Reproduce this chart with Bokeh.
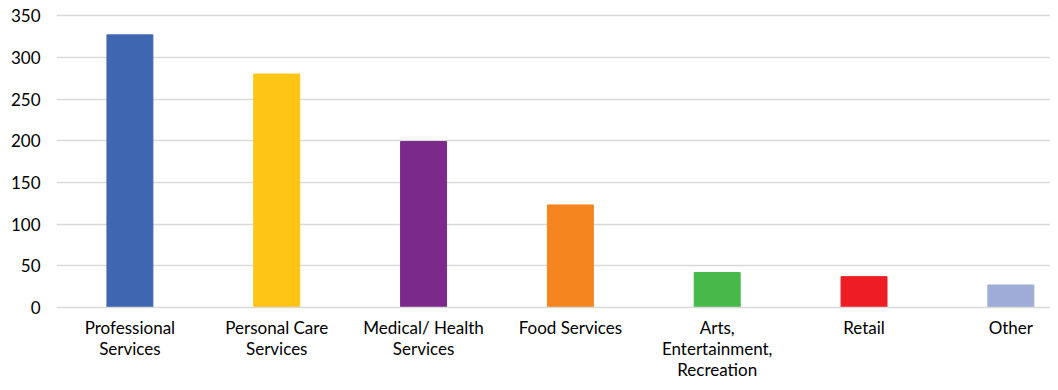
from bokeh.plotting import figure
from bokeh.models import FixedTicker, ColumnDataSource, Range1d
from bokeh.embed import file_html
from bokeh.resources import INLINE

categories = ["Professional\nServices", "Personal Care\nServices", "Medical/ Health\nServices",
              "Food Services", "Arts,\nEntertainment,\nRecreation", "Retail", "Other"]
values = [327, 280, 199, 123, 42, 37, 27]
colors = ["#3F67B1", "#FEC514", "#7B2A8B", "#F5851F", "#46B94A", "#EE1C25", "#9FACD8"]
y_ticks = [0, 50, 100, 150, 200, 250, 300, 350]

xs = list(range(len(categories)))
src = ColumnDataSource(dict(x=xs, top=values, color=colors))

p = figure(width=1050, height=382, output_backend="svg", toolbar_location=None,
           x_range=Range1d(-0.5, 6.27), y_range=Range1d(0, 355),
           min_border_left=56, min_border_right=0, min_border_top=11, min_border_bottom=69)
p.vbar(x="x", top="top", width=0.313, color="color", source=src)

FONT = "Lato"
p.outline_line_color = None
p.background_fill_color = "white"
p.border_fill_color = "white"

p.xgrid.grid_line_color = None
p.ygrid.grid_line_color = "#D9D9D9"
p.ygrid.grid_line_width = 1.5
p.ygrid.ticker = FixedTicker(ticks=y_ticks)

p.yaxis.ticker = FixedTicker(ticks=y_ticks)
p.yaxis.axis_line_color = None
p.yaxis.major_tick_line_color = None
p.yaxis.minor_tick_line_color = None
p.yaxis.major_tick_out = 0
p.yaxis.major_tick_in = 0
p.yaxis.major_label_text_font = FONT
p.yaxis.major_label_text_font_size = "17px"
p.yaxis.major_label_text_color = "#000000"
p.yaxis.major_label_standoff = 16

p.xaxis.ticker = FixedTicker(ticks=xs)
p.xaxis.major_label_overrides = {i: c for i, c in zip(xs, categories)}
p.xaxis.axis_line_color = "#D9D9D9"
p.xaxis.axis_line_width = 1.5
p.xaxis.major_tick_line_color = None
p.xaxis.minor_tick_line_color = None
p.xaxis.major_tick_out = 0
p.xaxis.major_tick_in = 0
p.xaxis.major_label_text_font = FONT
p.xaxis.major_label_text_font_size = "17px"
p.xaxis.major_label_text_line_height = 1.0
p.xaxis.major_label_text_color = "#000000"
p.xaxis.major_label_standoff = 9

open("out.html", "w").write(file_html(p, INLINE))
